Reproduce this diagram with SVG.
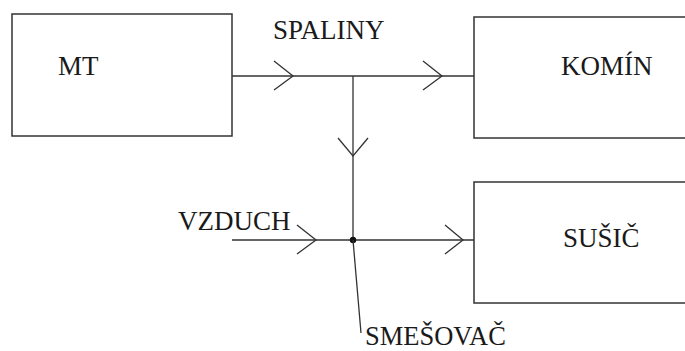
<svg xmlns="http://www.w3.org/2000/svg" width="685" height="351" viewBox="0 0 685 351">
<style>
.box{fill:#fff;stroke:#333;stroke-width:1.5}
.ln{fill:none;stroke:#333;stroke-width:1.3}
.t{font-family:"Liberation Serif","Times New Roman",serif;font-size:27px;fill:#1a1a1a}
</style>
<rect width="685" height="351" fill="#fff"/>
<g id="MT"><rect class="box" x="12" y="14" width="220" height="122"/><text class="t" x="58" y="75">MT</text></g>
<g id="KOMIN"><rect class="box" x="474" y="17" width="220" height="121"/><text class="t" x="561" y="75">KOMÍN</text></g>
<g id="SUSIC"><rect class="box" x="474" y="182" width="220" height="121"/><text class="t" x="563" y="247">SUŠIČ</text></g>
<g id="connectors">
<path class="ln" d="M232 76H474M353 76V240M232 240H474"/>
<path class="ln" d="M274 61L293 76L274 90M423 61L442 76L423 90"/>
<path class="ln" d="M338 138L353 156L368 138"/>
<path class="ln" d="M297 225L316 240L297 254M445 225L463 240L445 254"/>
<circle cx="353" cy="240" r="3.2" fill="#111"/>
<path class="ln" d="M353 240L361 333"/>
</g>
<text class="t" x="273" y="39">SPALINY</text>
<text class="t" x="178" y="230">VZDUCH</text>
<text class="t" x="365" y="345" style="font-size:26.5px">SMEŠOVAČ</text>
</svg>
